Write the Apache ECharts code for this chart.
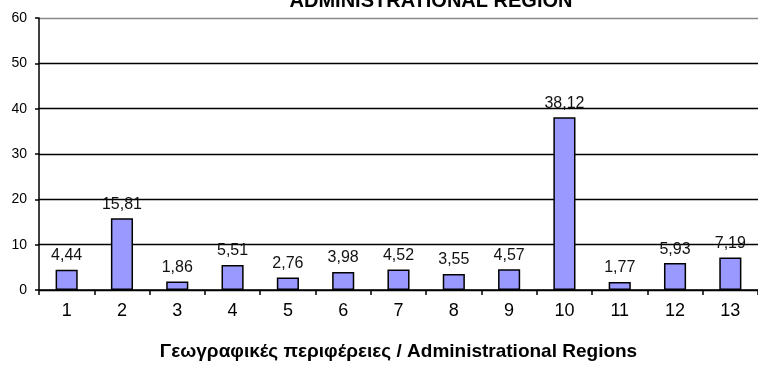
<!DOCTYPE html>
<html><head><meta charset="utf-8">
<script src="https://cdn.jsdelivr.net/npm/echarts@6/dist/echarts.min.js"></script>
<style>html,body{margin:0;padding:0;background:#fff}#c{width:758px;height:365px}</style>
</head><body><div id="c"></div>
<script>
const categories = ['1','2','3','4','5','6','7','8','9','10','11','12','13'];
const values = [4.44, 15.81, 1.86, 5.51, 2.76, 3.98, 4.52, 3.55, 4.57, 38.12, 1.77, 5.93, 7.19];
const titleText = 'ADMINISTRATIONAL REGION';
const xAxisName = 'Γεωγραφικές περιφέρειες / Administrational Regions';

const chart = echarts.init(document.getElementById('c'));
chart.setOption({
  animation: false,
  title: {
    text: titleText, left: 426, textAlign: 'center', top: -14,
    textStyle: {fontFamily: 'Liberation Sans', fontSize: 20, fontWeight: 'bold', color: '#000'}
  },
  grid: {left: 39, right: 0, top: 18, bottom: 75, containLabel: false, outerBoundsMode: 'none'},
  xAxis: {
    type: 'category', data: categories,
    name: xAxisName, nameLocation: 'middle', nameGap: 52,
    nameTextStyle: {fontFamily: 'Liberation Sans', fontSize: 19, fontWeight: 'bold', color: '#000'},
    axisLine: {lineStyle: {color: '#000', width: 1.5}},
    axisTick: {show: true, alignWithLabel: false, length: 5, lineStyle: {color: '#000', width: 1.5}},
    axisLabel: {fontFamily: 'Liberation Sans', fontSize: 18, color: '#000', margin: 12}
  },
  yAxis: {
    type: 'value', min: 0, max: 60, interval: 10,
    axisLine: {show: true, lineStyle: {color: '#000', width: 1.5}},
    axisTick: {show: true, length: 4, lineStyle: {color: '#000', width: 1.5}},
    axisLabel: {fontFamily: 'Liberation Sans', fontSize: 14, color: '#000', margin: 12},
    splitLine: {lineStyle: {color: ['#000','#000','#000','#000','#000','#000','#888'], width: 1.3}}
  },
  series: [{
    type: 'bar', data: values, barWidth: '40%',
    itemStyle: {color: '#9999FF', borderColor: '#000', borderWidth: 1.5},
    label: {
      show: true, position: 'top', distance: 6,
      fontFamily: 'Liberation Sans', fontSize: 16, color: '#111',
      formatter: p => p.value.toFixed(2).replace('.', ',')
    }
  }]
});
</script></body></html>
